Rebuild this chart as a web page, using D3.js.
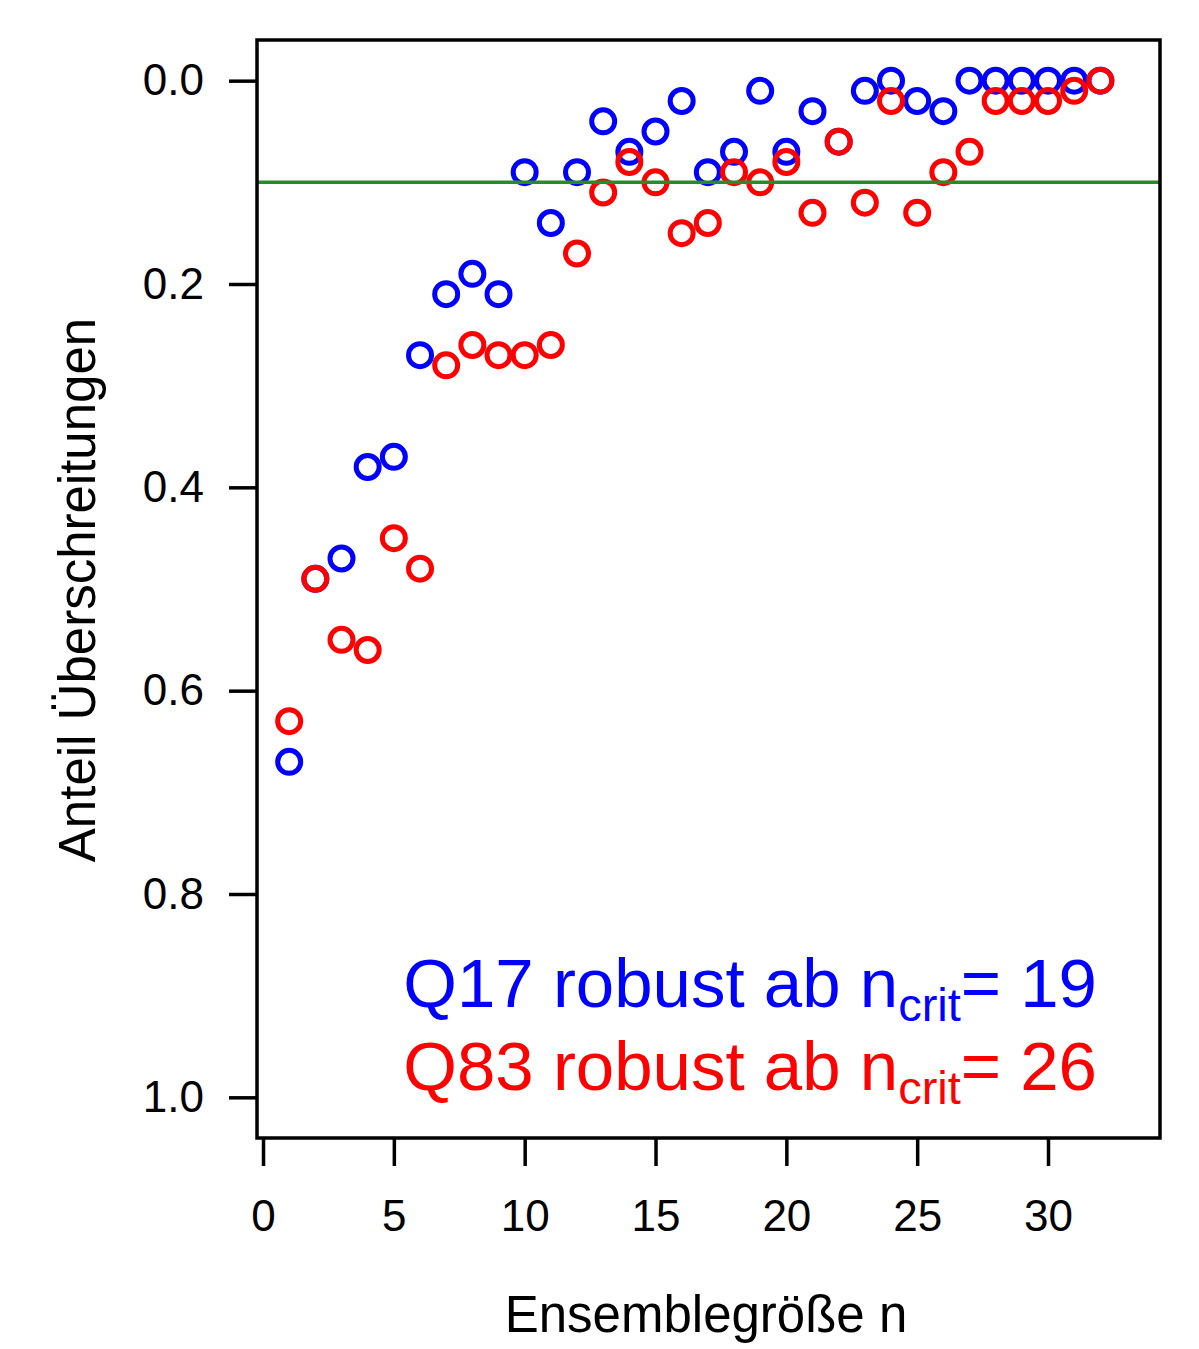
<!DOCTYPE html>
<html>
<head>
<meta charset="utf-8">
<script src="https://cdn.jsdelivr.net/npm/d3@7"></script>
<style>
  body { margin: 0; background: #fff; }
  text { font-family: "Liberation Sans", Arial, sans-serif; }
</style>
</head>
<body>
<div id="chart"></div>
<script>
// ensemble sizes and exceedance shares
const ensembleN = d3.range(1, 33);
const q17 = [0.67, 0.49, 0.47, 0.38, 0.37, 0.27, 0.21, 0.19, 0.21, 0.09,
             0.14, 0.09, 0.04, 0.07, 0.05, 0.02, 0.09, 0.07, 0.01, 0.07,
             0.03, 0.06, 0.01, 0.00, 0.02, 0.03, 0.00, 0.00, 0.00, 0.00,
             0.00, 0.00];
const q83 = [0.63, 0.49, 0.55, 0.56, 0.45, 0.48, 0.28, 0.26, 0.27, 0.27,
             0.26, 0.17, 0.11, 0.08, 0.10, 0.15, 0.14, 0.09, 0.10, 0.08,
             0.13, 0.06, 0.12, 0.02, 0.13, 0.09, 0.07, 0.02, 0.02, 0.02,
             0.01, 0.00];
const threshold = 0.1;
const xTicks = [0, 5, 10, 15, 20, 25, 30];
const yTicks = [0.0, 0.2, 0.4, 0.6, 0.8, 1.0];
const legendLines = [
  {label: "Q17 robust ab n", sub: "crit", tail: "= 19", color: "#0000ff"},
  {label: "Q83 robust ab n", sub: "crit", tail: "= 26", color: "#ff0000"}
];

const W = 1199, H = 1349;
const box = {left: 257, top: 40, right: 1160, bottom: 1138};

const svg = d3.select("#chart").append("svg")
    .attr("width", W).attr("height", H);

const x = d3.scaleLinear().domain([-0.23, 34.28]).range([box.left, box.right]);
const y = d3.scaleLinear().domain([-0.04, 1.04]).range([box.top, box.bottom]);

// x axis (ticks below the box)
let gx = svg.append("g")
    .attr("transform", `translate(0,${box.bottom})`)
    .call(d3.axisBottom(x).tickValues(xTicks).tickSize(28).tickPadding(34)
      .tickFormat(d3.format("d")));
gx.select(".domain").remove();
gx.selectAll("line").attr("stroke", "#000").attr("stroke-width", 3.5);
gx.selectAll("text").attr("font-size", 44).attr("fill", "#000");

// y axis
let gy = svg.append("g")
    .attr("transform", `translate(${box.left},0)`)
    .call(d3.axisLeft(y).tickValues(yTicks).tickSize(28).tickPadding(25)
      .tickFormat(d3.format(".1f")));
gy.select(".domain").remove();
gy.selectAll("line").attr("stroke", "#000").attr("stroke-width", 3.5);
gy.selectAll("text").attr("font-size", 44).attr("fill", "#000");

// points
function drawSeries(vals, color) {
  svg.append("g").selectAll("circle")
    .data(ensembleN.map((n, i) => ({n: n, v: vals[i]})))
    .enter().append("circle")
    .attr("cx", d => x(d.n))
    .attr("cy", d => y(d.v))
    .attr("r", 11.5)
    .attr("fill", "none")
    .attr("stroke", color)
    .attr("stroke-width", 5);
}
drawSeries(q17, "#0000ff");
drawSeries(q83, "#ff0000");

// threshold line
svg.append("line")
    .attr("x1", box.left).attr("x2", box.right)
    .attr("y1", y(threshold)).attr("y2", y(threshold))
    .attr("stroke", "#2a8a2a").attr("stroke-width", 3.5);

// frame
svg.append("rect")
    .attr("x", box.left).attr("y", box.top)
    .attr("width", box.right - box.left).attr("height", box.bottom - box.top)
    .attr("fill", "none").attr("stroke", "#000").attr("stroke-width", 3.5);

// axis titles
svg.append("text")
    .attr("x", 706).attr("y", 1332)
    .attr("text-anchor", "middle").attr("font-size", 51)
    .text("Ensemblegröße n");

svg.append("text")
    .attr("transform", "translate(95,590) rotate(-90)")
    .attr("text-anchor", "middle").attr("font-size", 51)
    .text("Anteil Überschreitungen");

// annotation
legendLines.forEach(function (d, i) {
  let t = svg.append("text")
      .attr("x", 1097).attr("y", 1007 + i * 83)
      .attr("text-anchor", "end").attr("font-size", 69)
      .attr("fill", d.color);
  t.append("tspan").text(d.label);
  t.append("tspan").attr("font-size", 47).attr("dy", 14).text(d.sub);
  t.append("tspan").attr("dy", -14).text(d.tail);
});
</script>
</body>
</html>
